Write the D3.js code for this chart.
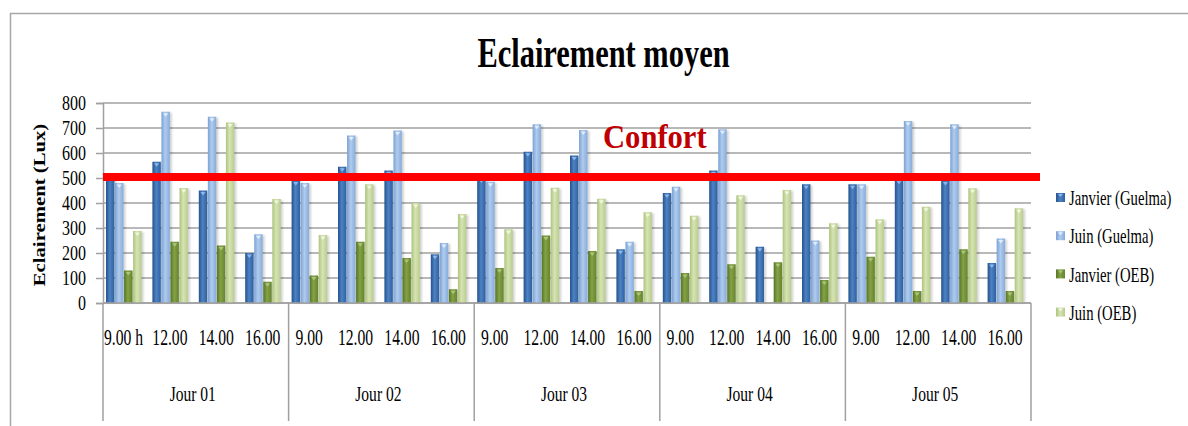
<!DOCTYPE html>
<html>
<head>
<meta charset="utf-8">
<script src="https://cdn.jsdelivr.net/npm/d3@7/dist/d3.min.js"></script>
<style>
  html, body { margin: 0; padding: 0; background: #fff; }
  svg { display: block; }
  text { font-family: "Liberation Serif", "Times New Roman", serif; fill: #000; }
</style>
</head>
<body>
<svg id="chart" width="1188" height="426"></svg>
<script>
// Illuminance measurements (lux), four readings per day over five days
const jours = ["Jour 01", "Jour 02", "Jour 03", "Jour 04", "Jour 05"];
const heures = [
  ["9.00 h", "12.00", "14.00", "16.00"],
  ["9.00", "12.00", "14.00", "16.00"],
  ["9.00", "12.00", "14.00", "16.00"],
  ["9.00", "12.00", "14.00", "16.00"],
  ["9.00", "12.00", "14.00", "16.00"]
];
const seriesNames = ["Janvier (Guelma)", "Juin (Guelma)", "Janvier (OEB)", "Juin (OEB)"];
const janvierGuelma = [520, 565, 450, 200, 490, 545, 530, 195, 500, 605, 590, 215, 440, 530, 225, 475, 475, 495, 490, 160];
const juinGuelma    = [480, 765, 745, 275, 480, 670, 690, 240, 485, 715, 692, 245, 465, 695, null, 250, 475, 728, 715, 258];
const janvierOEB    = [130, 245, 230, 85, 110, 245, 180, 55, 140, 270, 208, 48, 120, 155, 163, 92, 185, 48, 215, 48];
const juinOEB       = [288, 460, 722, 416, 272, 475, 400, 356, 295, 461, 417, 363, 349, 431, 452, 319, 335, 385, 459, 379];
const yTicks = [0, 100, 200, 300, 400, 500, 600, 700, 800];
const confortLevel = 500;

const seriesValues = [janvierGuelma, juinGuelma, janvierOEB, juinOEB];
// gradient stops per series: edge, centre, edge
const seriesColors = [
  ["#24528c", "#4d82c4", "#2f609e"],
  ["#7aa2d4", "#b0cbee", "#86acdc"],
  ["#58732a", "#83a344", "#66832f"],
  ["#aec47c", "#d6e4b4", "#b9cd8c"]
];
const markColors = ["#8fb6e8", "#e2edfa", "#a9c57a", "#f0f6e2"];

const svg = d3.select("#chart");
const defs = svg.append("defs");

seriesColors.forEach((c, i) => {
  const g = defs.append("linearGradient").attr("id", "grad" + i)
    .attr("x1", "0%").attr("x2", "100%").attr("y1", "0%").attr("y2", "0%");
  g.append("stop").attr("offset", "0%").attr("stop-color", c[0]);
  g.append("stop").attr("offset", "45%").attr("stop-color", c[1]);
  g.append("stop").attr("offset", "100%").attr("stop-color", c[2]);
});
defs.append("filter").attr("id", "soft").attr("x", "-50%").attr("y", "-10%").attr("width", "200%").attr("height", "120%")
  .append("feGaussianBlur").attr("stdDeviation", 1.2);

// position a text at (x, y) and squeeze it horizontally by factor k
function squeeze(sel, xf, yf, k, rot) {
  sel.attr("x", 0).attr("y", 0)
    .attr("transform", (d, i) => {
      const xx = typeof xf === "function" ? xf(d, i) : xf;
      const yy = typeof yf === "function" ? yf(d, i) : yf;
      return `translate(${xx},${yy})` + (rot ? ` rotate(${rot})` : "") + ` scale(${k},1)`;
    });
}

// outer frame
const frame = svg.append("g").attr("stroke", "#a6a6a6").attr("stroke-width", 1.5).attr("fill", "none");
frame.append("line").attr("x1", 10).attr("x2", 1188).attr("y1", 13.5).attr("y2", 13.5);
frame.append("line").attr("x1", 10.5).attr("x2", 10.5).attr("y1", 13).attr("y2", 426);

const plot = { left: 103, right: 1031, top: 103, bottom: 303 };

// flatten day/hour slots
const slots = [];
jours.forEach((j, di) => heures[di].forEach((h, hi) => slots.push({ id: di * 4 + hi, day: di, label: h })));

const x0 = d3.scaleBand().domain(slots.map(d => d.id)).range([plot.left, plot.right]).paddingInner(0).paddingOuter(0);
const x1 = d3.scaleBand().domain(d3.range(4)).range([3, 38.5]).paddingInner(0.07).paddingOuter(0);
const y = d3.scaleLinear().domain([0, 800]).range([plot.bottom, plot.top]);

// horizontal gridlines
svg.append("g").selectAll("line").data(yTicks).join("line")
  .attr("x1", plot.left).attr("x2", plot.right)
  .attr("y1", d => y(d)).attr("y2", d => y(d))
  .attr("stroke", "#a0a0a0").attr("stroke-width", 1.5);

// y axis
const yAxis = svg.append("g").attr("transform", `translate(${plot.left},0)`)
  .call(d3.axisLeft(y).tickValues(yTicks).tickSize(7).tickPadding(10).tickFormat(d3.format("d")));
yAxis.select(".domain").attr("stroke", "#a0a0a0").attr("stroke-width", 1.5);
yAxis.selectAll(".tick line").attr("stroke", "#a0a0a0").attr("stroke-width", 1.5);
const tickText = yAxis.selectAll(".tick text")
  .attr("font-family", "Liberation Serif").attr("font-size", 20).attr("fill", "#000")
  .attr("text-anchor", "end").attr("dy", "0.34em");
squeeze(tickText, -17, 0, 0.8);

// bars
const bars = [];
slots.forEach(s => seriesValues.forEach((arr, si) => {
  if (arr[s.id] != null) bars.push({ slot: s.id, si, v: arr[s.id] });
}));
const barW = x1.bandwidth();

const gBars = svg.append("g");
gBars.selectAll("rect.shadow").data(bars).join("rect").attr("class", "shadow")
  .attr("x", d => x0(d.slot) + x1(d.si) + 2)
  .attr("y", d => y(d.v) + 1)
  .attr("width", barW)
  .attr("height", d => y(0) - y(d.v) - 1)
  .attr("fill", "#000").attr("opacity", 0.18).attr("filter", "url(#soft)");
gBars.selectAll("rect.bar").data(bars).join("rect").attr("class", "bar")
  .attr("x", d => x0(d.slot) + x1(d.si))
  .attr("y", d => y(d.v))
  .attr("width", barW)
  .attr("height", d => y(0) - y(d.v))
  .attr("fill", d => `url(#grad${d.si})`);
// small highlight triangle at the top of each bar
gBars.selectAll("path.cap").data(bars).join("path").attr("class", "cap")
  .attr("d", d => {
    const cx = x0(d.slot) + x1(d.si) + barW / 2, ty = y(d.v) + 1.5;
    return `M${cx - 2.6},${ty}L${cx + 2.6},${ty}L${cx},${ty + 3.6}Z`;
  })
  .attr("fill", d => markColors[d.si]);

// category axis lines
const gx = svg.append("g");
gx.append("line").attr("x1", plot.left).attr("x2", plot.right).attr("y1", y(0)).attr("y2", y(0))
  .attr("stroke", "#a0a0a0").attr("stroke-width", 1.5);
const bounds = jours.map((j, i) => x0(i * 4)).concat([plot.right]);
gx.selectAll("line.sep").data(bounds).join("line").attr("class", "sep")
  .attr("x1", d => d).attr("x2", d => d).attr("y1", y(0)).attr("y2", 421)
  .attr("stroke", "#a0a0a0").attr("stroke-width", 1.5);

const hourLabels = gx.selectAll("text.hour").data(slots).join("text").attr("class", "hour")
  .attr("text-anchor", "middle").attr("font-size", 23)
  .text(d => d.label);
squeeze(hourLabels, d => x0(d.id) + 20.5, 345, 0.68);

const dayLabels = gx.selectAll("text.day").data(jours).join("text").attr("class", "day")
  .attr("text-anchor", "middle").attr("font-size", 21)
  .text(d => d);
squeeze(dayLabels, (d, i) => (bounds[i] + bounds[i + 1]) / 2 - 3, 401, 0.74);

// comfort threshold
svg.append("line")
  .attr("x1", plot.left).attr("x2", 1040)
  .attr("y1", y(confortLevel) - 1).attr("y2", y(confortLevel) - 1)
  .attr("stroke", "#ff0000").attr("stroke-width", 8);
const conf = svg.append("text")
  .attr("font-size", 34).attr("font-weight", "bold")
  .style("fill", "#c00000").text("Confort");
squeeze(conf, 603, 148, 0.9);

// title
const title = svg.append("text").attr("text-anchor", "middle")
  .attr("font-size", 42).attr("font-weight", "bold").text("Eclairement moyen");
squeeze(title, 603.5, 66.5, 0.725);

// y axis title (rotated, so the squeeze acts along its length)
const yt = svg.append("text")
  .attr("text-anchor", "middle").attr("font-size", 17).attr("font-weight", "bold")
  .text("Eclairement (Lux)");
squeeze(yt, 45, 205, 1.22, -90);

// legend
const leg = svg.append("g");
seriesNames.forEach((name, i) => {
  const cy = 198 + i * 38.2;
  leg.append("rect").attr("x", 1056).attr("y", cy - 5).attr("width", 9).attr("height", 9)
    .attr("fill", `url(#grad${i})`);
  leg.append("path").attr("d", `M${1058},${cy - 4}L${1063},${cy - 4}L${1060.5},${cy - 1}Z`)
    .attr("fill", markColors[i]);
  const t = leg.append("text").attr("dy", "0.34em")
    .attr("font-size", 21).text(name);
  squeeze(t, 1069, cy, 0.7);
});
</script>
</body>
</html>
